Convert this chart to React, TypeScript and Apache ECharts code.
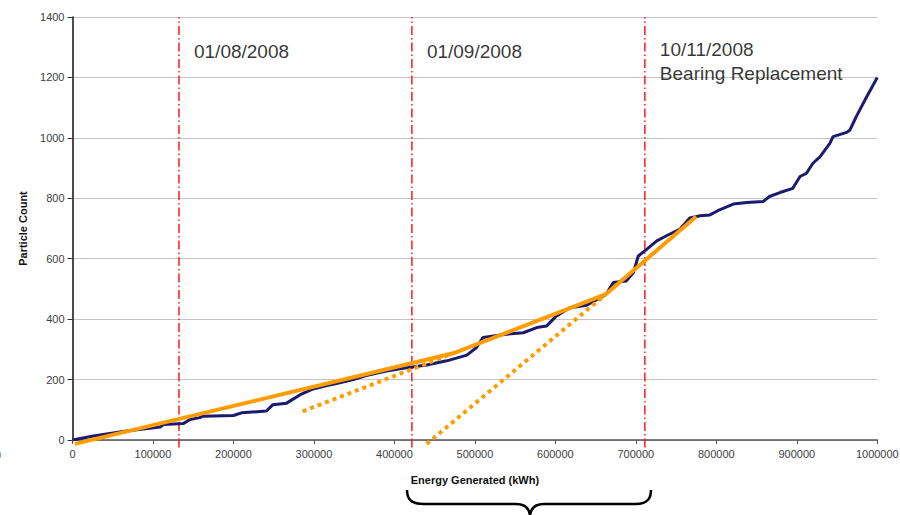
import React, { useEffect, useRef } from "react";
import * as echarts from "echarts";

// Measured particle count vs cumulative energy generated
const particleData: [number, number][] = [
  [0, 0], [26000, 13], [67000, 30], [109000, 43], [113000, 51], [138000, 55],
  [146000, 68], [158000, 74], [162000, 79], [200000, 81], [210000, 90],
  [241000, 96], [249000, 117], [266000, 122], [283000, 150], [299000, 169],
  [316000, 180], [328000, 187], [349000, 200], [365000, 213], [390000, 228],
  [415000, 239], [440000, 248], [465000, 262], [490000, 281], [502000, 306],
  [510000, 339], [539000, 350], [560000, 355], [577000, 372], [589000, 377],
  [601000, 410], [618000, 438], [639000, 446], [663000, 482], [672000, 521],
  [688000, 526], [697000, 554], [703000, 609], [713000, 630], [726000, 659],
  [738000, 676], [755000, 698], [767000, 735], [780000, 742], [792000, 745],
  [804000, 762], [821000, 781], [838000, 786], [858000, 789], [866000, 806],
  [879000, 819], [895000, 833], [904000, 872], [912000, 883], [920000, 916],
  [929000, 938], [941000, 982], [945000, 1004], [962000, 1018], [966000, 1026],
  [974000, 1071], [987000, 1137], [1000000, 1200],
];

// Piecewise trend (solid) and its backward extensions (dotted)
const trendSolid: [number, number][] = [
  [3000, -13], [473000, 287], [663000, 483], [775000, 740],
];
const trendDotted1: [number, number][] = [[286000, 95], [473000, 287]];
const trendDotted2: [number, number][] = [[440000, -13], [663000, 483]];

// Event dates (energy at which they occurred)
const eventEnergy: number[] = [132300, 421700, 711200];
const eventLabels: string[] = ["01/08/2008", "01/09/2008", "10/11/2008\nBearing Replacement"];
const eventLabelY: number[] = [1286, 1286, 1252];

const xTicks = { min: 0, max: 1000000, interval: 100000 };
const yTicks = { min: 0, max: 1400, interval: 200 };

const FONT = "Liberation Sans, Arial, Helvetica, sans-serif";

const bracePath =
  "M407,490 C407,500 412,504 424,504 L516,504 C524,504 529,508 530,515 C531,508 536,504 544,504 L636,504 C646,504 651,500 651,490";

export default function App() {
  const ref = useRef<HTMLDivElement>(null);
  useEffect(() => {
    document.body.style.margin = "0";
    if (!ref.current) return;
    try {
      echarts.graphic.registerShape("brace", echarts.graphic.extendPath(bracePath, {}));
    } catch (e) {}
    const chart = echarts.init(ref.current, undefined, { renderer: "svg" });

    const eventSeries = eventEnergy.map((x, i) => ({
      type: "line",
      name: "event" + i,
      data: [[x, -25], [x, 1400]],
      symbol: "none",
      clip: false,
      silent: true,
      z: 1,
      lineStyle: { color: "#ff1a1a", width: 1.5, type: [9, 3, 1.5, 3] },
    }));

    chart.setOption({
      animation: false,
      backgroundColor: "#ffffff",
      textStyle: { fontFamily: FONT },
      grid: {
        left: 72.5,
        right: 22.7,
        top: 17,
        bottom: 75,
        containLabel: false,
        outerBoundsMode: "none",
      },
      xAxis: {
        type: "value",
        min: xTicks.min,
        max: xTicks.max,
        interval: xTicks.interval,
        name: "Energy Generated (kWh)",
        nameLocation: "middle",
        nameGap: 34,
        nameTextStyle: { fontFamily: FONT, fontSize: 11, fontWeight: "bold", color: "#111" },
        axisLine: { show: true, onZero: false, lineStyle: { color: "#555", width: 1.5 } },
        axisTick: { show: true, length: 4, lineStyle: { color: "#555" } },
        axisLabel: {
          fontFamily: FONT,
          fontSize: 11,
          color: "#404040",
          margin: 8,
          formatter: (v: number) => String(v),
        },
        splitLine: { show: false },
      },
      yAxis: {
        type: "value",
        min: yTicks.min,
        max: yTicks.max,
        interval: yTicks.interval,
        name: "Particle Count",
        nameLocation: "middle",
        nameGap: 44,
        nameTextStyle: { fontFamily: FONT, fontSize: 11, fontWeight: "bold", color: "#111" },
        axisLine: { show: true, lineStyle: { color: "#111", width: 1.5 } },
        axisTick: { show: true, length: 5, lineStyle: { color: "#333" } },
        axisLabel: {
          fontFamily: FONT,
          fontSize: 11,
          color: "#404040",
          margin: 8,
          formatter: (v: number) => String(v),
        },
        splitLine: { show: true, lineStyle: { color: "#c4c4c4", width: 1 } },
      },
      series: [
        ...eventSeries,
        {
          type: "line",
          name: "Particle Count",
          data: particleData,
          symbol: "none",
          z: 3,
          lineStyle: { color: "#1a1a6e", width: 3 },
        },
        {
          type: "line",
          name: "trend",
          data: trendSolid,
          symbol: "none",
          clip: false,
          z: 4,
          lineStyle: { color: "#ff9d00", width: 4 },
        },
        {
          type: "line",
          name: "trend ext 1",
          data: trendDotted1,
          symbol: "none",
          clip: false,
          z: 4,
          lineStyle: { color: "#ff9d00", width: 4, type: [4, 4] },
        },
        {
          type: "line",
          name: "trend ext 2",
          data: trendDotted2,
          symbol: "none",
          clip: false,
          z: 4,
          lineStyle: { color: "#ff9d00", width: 4, type: [4, 4] },
        },
        {
          type: "scatter",
          name: "events",
          symbolSize: 0,
          silent: true,
          z: 5,
          data: eventEnergy.map((x, i) => ({ value: [x, eventLabelY[i]], name: eventLabels[i] })),
          label: {
            show: true,
            position: [0, 0],
            offset: [15, 0],
            align: "left",
            verticalAlign: "middle",
            formatter: (p: any) => p.name,
            fontFamily: FONT,
            fontSize: 19,
            lineHeight: 24,
            color: "#000",
          },
        },
      ],
      graphic: [
        {
          type: "brace",
          x: 0,
          y: 0,
          style: { fill: "none", stroke: "#000", lineWidth: 2.5 },
          silent: true,
        },
        {
          type: "text",
          left: -5,
          top: 449,
          style: { text: "0", fontFamily: FONT, fontSize: 11, fill: "#666" },
          silent: true,
        },
      ],
    });
    return () => chart.dispose();
  }, []);
  return (
    <div
      ref={ref}
      style={{ position: "absolute", left: 0, top: 0, width: 900, height: 515 }}
    />
  );
}
